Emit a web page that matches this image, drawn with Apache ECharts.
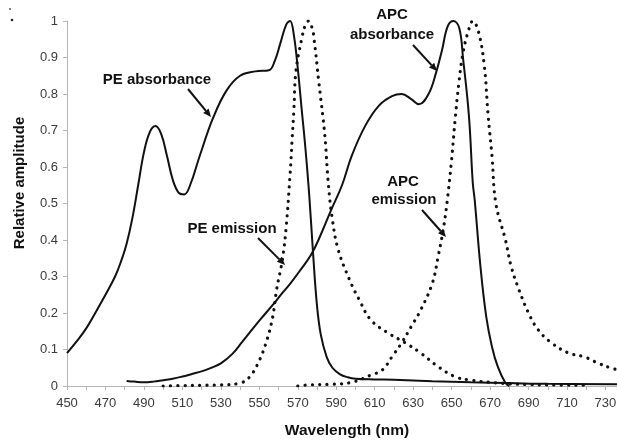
<!DOCTYPE html>
<html>
<head>
<meta charset="utf-8">
<script src="https://cdn.jsdelivr.net/npm/echarts@6/dist/echarts.min.js"></script>
<style>
  html, body { margin: 0; padding: 0; background: #fff; }
  #chart { width: 617px; height: 440px; }
</style>
</head>
<body>
<div id="chart"></div>
<script>
// wavelengths (nm) and relative amplitudes
const peAbsWl = [450, 455, 460, 465, 470, 475, 478, 481, 484, 487, 490, 493, 496, 499, 502, 505, 508, 511, 514, 519, 526, 533, 540, 548, 555, 558, 561, 564, 566, 568, 570, 572, 574, 576, 578, 580, 582, 585, 588, 592, 596, 600, 610, 620, 640, 660, 680, 700, 736]
const peAbsVal = [0.09, 0.122, 0.158, 0.203, 0.25, 0.30, 0.34, 0.39, 0.46, 0.55, 0.64, 0.695, 0.712, 0.69, 0.63, 0.565, 0.53, 0.525, 0.55, 0.63, 0.735, 0.81, 0.85, 0.862, 0.865, 0.89, 0.94, 0.99, 1.0, 0.96, 0.87, 0.76, 0.65, 0.52, 0.36, 0.22, 0.14, 0.08, 0.05, 0.032, 0.024, 0.02, 0.018, 0.017, 0.013, 0.01, 0.008, 0.006, 0.005]

const apcAbsWl = [481, 485, 490, 495, 500, 505, 510, 515, 520, 525, 530, 536, 541, 546, 551, 557, 562, 566, 571, 577, 582, 587, 593, 598, 605, 612, 619, 624, 629, 633, 638, 642, 645, 648, 651, 654, 656, 659, 661, 662, 665, 668, 671, 674, 678, 680]
const apcAbsVal = [0.014, 0.012, 0.01, 0.012, 0.016, 0.02, 0.026, 0.033, 0.04, 0.05, 0.062, 0.088, 0.12, 0.153, 0.185, 0.222, 0.255, 0.28, 0.315, 0.36, 0.415, 0.478, 0.55, 0.63, 0.712, 0.767, 0.794, 0.80, 0.786, 0.772, 0.80, 0.86, 0.92, 0.986, 1.0, 0.98, 0.895, 0.74, 0.557, 0.51, 0.327, 0.19, 0.107, 0.053, 0.008, 0]

const peEmWl = [500, 510, 520, 530, 540, 545, 550, 554, 557, 559, 562, 564, 566, 567, 568, 569, 572, 574, 575.5, 577.5, 578.5, 581, 584, 586, 588, 591, 597, 602, 608, 617, 626, 634, 643, 652, 660, 670, 680, 690, 700, 720]
const peEmVal = [0, 0.001, 0.002, 0.003, 0.008, 0.025, 0.07, 0.127, 0.19, 0.264, 0.346, 0.437, 0.58, 0.67, 0.76, 0.86, 0.95, 0.99, 1.0, 0.98, 0.95, 0.83, 0.69, 0.547, 0.456, 0.374, 0.29, 0.236, 0.181, 0.145, 0.118, 0.09, 0.053, 0.025, 0.016, 0.01, 0.006, 0.004, 0.003, 0.002]

const apcEmWl = [570, 576, 588, 598, 608, 614, 619, 624, 629, 634, 640, 643, 646, 648, 650, 652, 654, 656, 659, 661, 664, 667, 669, 671, 673, 678, 681, 685, 690, 695, 702, 711, 719, 726, 733, 736]
const apcEmVal = [0, 0.003, 0.005, 0.01, 0.03, 0.044, 0.08, 0.118, 0.163, 0.209, 0.282, 0.355, 0.44, 0.52, 0.62, 0.74, 0.84, 0.915, 0.978, 1.0, 0.97, 0.877, 0.74, 0.63, 0.5, 0.40, 0.327, 0.264, 0.2, 0.154, 0.118, 0.09, 0.08, 0.063, 0.049, 0.045]

const pairs = (xs, ys) => xs.map((x, i) => [x, ys[i]])

const font = 'Liberation Sans, Arial, sans-serif'

function arrow(x1, y1, x2, y2) {
  const a = Math.atan2(y2 - y1, x2 - x1)
  const len = 8, w = 3.5
  const bx = x2 - len * Math.cos(a), by = y2 - len * Math.sin(a)
  const px = -Math.sin(a) * w, py = Math.cos(a) * w
  return [
    { type: 'line', shape: { x1, y1, x2: bx, y2: by }, style: { stroke: '#111', lineWidth: 2 } },
    { type: 'polygon', shape: { points: [[x2, y2], [bx + px, by + py], [bx - px, by - py]] }, style: { fill: '#111' } }
  ]
}

function label(text, x, y) {
  return { type: 'text', x, y, style: { text, font: 'bold 15px ' + font, fill: '#111', textAlign: 'center', textVerticalAlign: 'middle' } }
}

const chart = echarts.init(document.getElementById('chart'))

const solid = { color: '#111', width: 2 }
const dotted = { color: '#111', width: 3.2, type: [0.1, 7.2], cap: 'round' }

chart.setOption({
  animation: false,
  backgroundColor: '#fff',
  grid: { left: 67, right: 0, top: 21, bottom: 54, containLabel: false, outerBoundsMode: 'none' },
  xAxis: {
    type: 'value',
    min: 450,
    max: 736,
    interval: 10,
    splitLine: { show: false },
    axisLine: { lineStyle: { color: '#b5b5b5', width: 1 } },
    axisTick: { length: 4, lineStyle: { color: '#b5b5b5' } },
    axisLabel: {
      margin: 11,
      fontFamily: font,
      fontSize: 13,
      color: '#3a3a3a',
      showMaxLabel: false,
      formatter: v => ((v - 450) % 20 === 0 ? String(v) : '')
    },
    name: 'Wavelength (nm)',
    nameLocation: 'middle',
    nameGap: 37,
    nameTextStyle: { fontFamily: font, fontSize: 15.5, fontWeight: 'bold', color: '#111', padding: [0, 0, 0, 10] }
  },
  yAxis: {
    type: 'value',
    min: 0,
    max: 1,
    interval: 0.1,
    splitLine: { show: false },
    axisLine: { show: true, lineStyle: { color: '#b5b5b5', width: 1 } },
    axisTick: { show: true, length: 4, lineStyle: { color: '#b5b5b5' } },
    axisLabel: {
      margin: 9,
      fontFamily: font,
      fontSize: 13,
      color: '#3a3a3a',
      formatter: v => String(Math.round(v * 10) / 10)
    }
  },
  series: [
    { name: 'PE absorbance', type: 'line', smooth: 0.4, showSymbol: false, data: pairs(peAbsWl, peAbsVal), lineStyle: solid },
    { name: 'APC absorbance', type: 'line', smooth: 0.4, showSymbol: false, data: pairs(apcAbsWl, apcAbsVal), lineStyle: solid },
    { name: 'PE emission', type: 'line', smooth: 0.4, showSymbol: false, data: pairs(peEmWl, peEmVal), lineStyle: dotted },
    { name: 'APC emission', type: 'line', smooth: 0.4, showSymbol: false, data: pairs(apcEmWl, apcEmVal), lineStyle: dotted }
  ],
  graphic: [
    {
      type: 'text', x: 20, y: 183, rotation: Math.PI / 2,
      style: { text: 'Relative amplitude', font: 'bold 15px ' + font, fill: '#111', textAlign: 'center', textVerticalAlign: 'middle' }
    },
    label('PE absorbance', 157, 80),
    ...arrow(188, 89, 211, 117),
    label('APC', 392, 15),
    label('absorbance', 392, 35),
    ...arrow(413, 45, 437, 71),
    label('PE emission', 232, 229),
    ...arrow(258, 238, 285, 265),
    label('APC', 403, 182),
    label('emission', 404, 200),
    ...arrow(422, 210, 446, 237),
    { type: 'circle', shape: { cx: 12, cy: 20, r: 1.3 }, style: { fill: '#222' } },
    { type: 'circle', shape: { cx: 10, cy: 9, r: 0.9 }, style: { fill: '#444' } }
  ]
})
</script>
</body>
</html>
